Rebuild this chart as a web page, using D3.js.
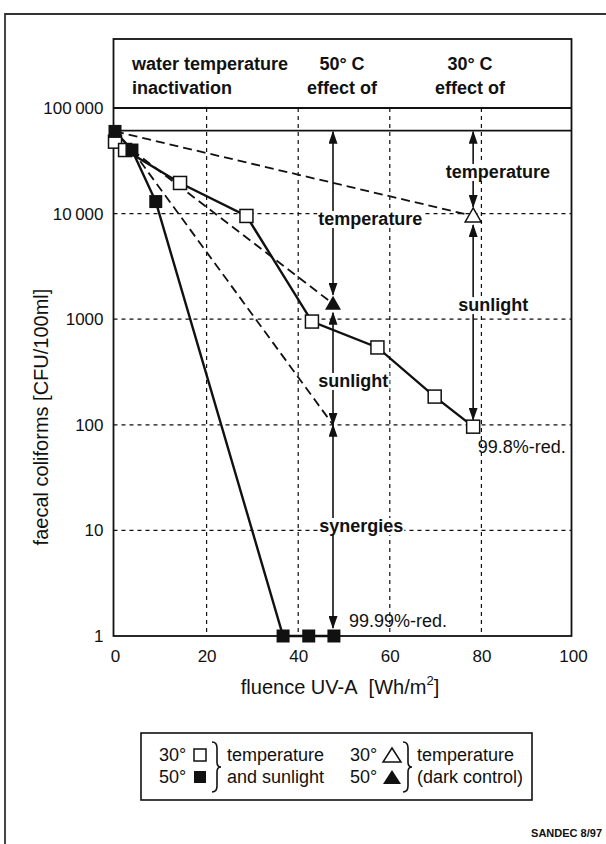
<!DOCTYPE html>
<html>
<head>
<meta charset="utf-8">
<script src="https://cdn.jsdelivr.net/npm/d3@7"></script>
<style>
  body { margin: 0; background: #fff; }
  svg { display: block; font-family: "Liberation Sans", Arial, Helvetica, sans-serif; }
</style>
</head>
<body>
<svg id="chart" width="606" height="844"></svg>
<script>
// fluence UV-A [Wh/m2] vs faecal coliforms [CFU/100ml]
const sun30_x = [0, 2.2, 14.2, 28.7, 43, 57.3, 69.8, 78.2];
const sun30_y = [48000, 40000, 19500, 9500, 950, 540, 185, 96];
const sun50_x = [0, 3.7, 8.9, 36.7, 42.3, 47.8];
const sun50_y = [60000, 40000, 13000, 1, 1, 1];
const dark30_x = [0, 78.2];
const dark30_y = [60000, 9500];
const dark50_x = [3.7, 47.6];
const dark50_y = [40000, 1400];
const expect_x = [3.7, 47.6];
const expect_y = [40000, 100];
const start_level = 61000;

const x_ticks = [0, 20, 40, 60, 80, 100];
const y_ticks = [1, 10, 100, 1000, 10000, 100000];
const y_tick_labels = ["1", "10", "100", "1000", "10\u2009000", "100\u2009000"];
const grid_x = [20, 40, 60, 80];
const grid_y = [10, 100, 1000, 10000];

// double arrows: x, from value, to value
const arrow_x = [47.6, 47.6, 47.6, 78.2, 78.2];
const arrow_from = [61000, 1400, 100, 61000, 9500];
const arrow_to = [1400, 100, 1, 9500, 96];

const note_text = ["temperature", "sunlight", "synergies", "temperature", "sunlight", "99.8%-red.", "99.99%-red."];
const note_x = [44.4, 44.4, 44.6, 83.6, 82.6, 79.2, 51.1];
const note_y = [8900, 260, 11, 24800, 1360, 62, 1.39];

const header_top = ["water temperature", "50° C", "30° C"];
const header_bottom = ["inactivation", "effect of", "effect of"];

const svg = d3.select("#chart");
const x = d3.scaleLinear().domain([0, 100]).range([115, 573]);
const y = d3.scaleLog().domain([1, 100000]).range([636, 108]);
const plotLeft = x(0) - 1.5, plotRight = x(100) - 1.5, headTop = 39;
const ink = "#111";

// outer frame (top + left only)
svg.append("path")
  .attr("d", "M5,844 L5,14 L606,14")
  .attr("fill", "none").attr("stroke", "#333").attr("stroke-width", 1.8);

// gridlines
svg.append("g").selectAll("line")
  .data(grid_x).enter().append("line")
  .attr("x1", d => x(d)).attr("x2", d => x(d))
  .attr("y1", y(100000)).attr("y2", y(1))
  .attr("stroke", ink).attr("stroke-width", 1.2).attr("stroke-dasharray", "4,4");

svg.append("g").selectAll("line")
  .data(grid_y).enter().append("line")
  .attr("x1", plotLeft).attr("x2", plotRight)
  .attr("y1", d => y(d)).attr("y2", d => y(d))
  .attr("stroke", ink).attr("stroke-width", 1.2).attr("stroke-dasharray", "4,4");

// initial level line
svg.append("line")
  .attr("x1", plotLeft).attr("x2", plotRight)
  .attr("y1", y(start_level)).attr("y2", y(start_level))
  .attr("stroke", ink).attr("stroke-width", 1.6);

// arrow heads
svg.append("defs").append("marker")
  .attr("id", "head")
  .attr("markerUnits", "userSpaceOnUse")
  .attr("viewBox", "0 0 13 9")
  .attr("markerWidth", 13).attr("markerHeight", 9)
  .attr("refX", 12).attr("refY", 4.5)
  .attr("orient", "auto-start-reverse")
  .append("path").attr("d", "M0,0 L13,4.5 L0,9 Z").attr("fill", ink);

function gap(v) {
  if (v === start_level) return 1;
  if (v === 100) return 0;
  if (v === 1) return 8;
  return v < 200 ? 7 : 9;
}

svg.append("g").selectAll("line")
  .data(arrow_x.map((d, i) => i)).enter().append("line")
  .attr("x1", i => x(arrow_x[i])).attr("x2", i => x(arrow_x[i]))
  .attr("y1", i => y(arrow_from[i]) + gap(arrow_from[i]))
  .attr("y2", i => y(arrow_to[i]) - gap(arrow_to[i]))
  .attr("stroke", ink).attr("stroke-width", 1.6)
  .attr("marker-start", "url(#head)").attr("marker-end", "url(#head)");

// notes with white background
const notes = svg.append("g").selectAll("g")
  .data(note_text.map((d, i) => i)).enter().append("g");
notes.append("text")
  .attr("x", i => x(note_x[i]))
  .attr("y", i => y(note_y[i]))
  .attr("text-anchor", i => (i === 3 || i === 4) ? "middle" : "start")
  .attr("dominant-baseline", "central")
  .attr("font-size", 18)
  .attr("font-weight", i => i < 5 ? "bold" : "normal")
  .attr("fill", ink)
  .text(i => note_text[i]);
notes.each(function(i) {
  if (i >= 5) return;
  const b = d3.select(this).select("text").node().getBBox();
  d3.select(this).insert("rect", "text")
    .attr("x", b.x - 1).attr("y", b.y + 2)
    .attr("width", b.width + 2).attr("height", b.height - 3)
    .attr("fill", "#fff");
});

// data lines
const line = d3.line().x(d => x(d[0])).y(d => y(d[1]));
const zip = (xs, ys) => xs.map((d, i) => [d, ys[i]]);

[[dark30_x, dark30_y], [dark50_x, dark50_y], [expect_x, expect_y]].forEach(([xs, ys]) => {
  svg.append("path").datum(zip(xs, ys))
    .attr("d", line).attr("fill", "none").attr("stroke", ink)
    .attr("stroke-width", 1.8).attr("stroke-dasharray", "9,5");
});
[[sun30_x, sun30_y], [sun50_x, sun50_y]].forEach(([xs, ys]) => {
  svg.append("path").datum(zip(xs, ys))
    .attr("d", line).attr("fill", "none").attr("stroke", ink).attr("stroke-width", 2.4);
});

// plot frame + header box
svg.append("rect")
  .attr("x", plotLeft).attr("y", headTop)
  .attr("width", plotRight - plotLeft).attr("height", y(1) - headTop)
  .attr("fill", "none").attr("stroke", ink).attr("stroke-width", 1.8);
svg.append("line")
  .attr("x1", plotLeft).attr("x2", plotRight)
  .attr("y1", y(100000)).attr("y2", y(100000))
  .attr("stroke", ink).attr("stroke-width", 1.8);

// markers
const tri = "M0,-8 L8,6 L-8,6 Z";
svg.append("g").selectAll("rect")
  .data(zip(sun30_x, sun30_y)).enter().append("rect")
  .attr("x", d => x(d[0]) - 6.5).attr("y", d => y(d[1]) - 6.5)
  .attr("width", 13).attr("height", 13)
  .attr("fill", "#fff").attr("stroke", ink).attr("stroke-width", 1.5);
svg.append("g").selectAll("rect")
  .data(zip(sun50_x, sun50_y)).enter().append("rect")
  .attr("x", d => x(d[0]) - 6.5).attr("y", d => y(d[1]) - 6.5)
  .attr("width", 13).attr("height", 13)
  .attr("fill", ink);
svg.append("path")
  .attr("transform", `translate(${x(dark30_x[1])},${y(dark30_y[1])})`)
  .attr("d", tri).attr("fill", "#fff").attr("stroke", ink).attr("stroke-width", 1.5);
svg.append("path")
  .attr("transform", `translate(${x(dark50_x[1])},${y(dark50_y[1])})`)
  .attr("d", tri).attr("fill", ink);

// axes
const xAxis = svg.append("g")
  .attr("transform", `translate(0,${y(1)})`)
  .call(d3.axisBottom(x).tickValues(x_ticks).tickSize(0).tickPadding(14));
const yAxis = svg.append("g")
  .attr("transform", `translate(${plotLeft},0)`)
  .call(d3.axisLeft(y).tickValues(y_ticks).tickSize(0).tickPadding(10)
    .tickFormat((d, i) => y_tick_labels[i]));
[xAxis, yAxis].forEach(a => {
  a.select(".domain").remove();
  a.selectAll("text").attr("font-size", 17).attr("fill", ink)
    .attr("font-family", "Liberation Sans, Arial, sans-serif");
});

// axis titles
svg.append("text")
  .attr("transform", "translate(41,417) rotate(-90)")
  .attr("text-anchor", "middle").attr("dominant-baseline", "central")
  .attr("font-size", 20).attr("fill", ink)
  .text("faecal coliforms [CFU/100ml]");
const xt = svg.append("text")
  .attr("x", 340).attr("y", 687)
  .attr("text-anchor", "middle").attr("dominant-baseline", "central")
  .attr("font-size", 20).attr("fill", ink)
  .style("white-space", "pre");
xt.append("tspan").text("fluence UV-A\u00a0\u00a0[Wh/m");
xt.append("tspan").attr("font-size", 13).attr("dy", -7).text("2");
xt.append("tspan").attr("dy", 7).text("]");

// header
const header_x = [132, 342, 470];
svg.append("g").selectAll("text")
  .data(header_top).enter().append("text")
  .attr("x", (d, i) => header_x[i]).attr("y", 64)
  .attr("text-anchor", (d, i) => i === 0 ? "start" : "middle")
  .attr("dominant-baseline", "central")
  .attr("font-size", 18).attr("font-weight", "bold").attr("fill", ink)
  .text(d => d);
svg.append("g").selectAll("text")
  .data(header_bottom).enter().append("text")
  .attr("x", (d, i) => header_x[i]).attr("y", 88)
  .attr("text-anchor", (d, i) => i === 0 ? "start" : "middle")
  .attr("dominant-baseline", "central")
  .attr("font-size", 18).attr("font-weight", "bold").attr("fill", ink)
  .text(d => d);

// legend
const lg = svg.append("g");
lg.append("rect")
  .attr("x", 141).attr("y", 733).attr("width", 391).attr("height", 67)
  .attr("fill", "#fff").attr("stroke", ink).attr("stroke-width", 1.6);
const row = [755, 777];
const legText = (tx, ty, s) => lg.append("text").attr("x", tx).attr("y", ty)
  .attr("dominant-baseline", "central").attr("font-size", 18).attr("fill", ink).text(s);
legText(159, row[0], "30°");
legText(159, row[1], "50°");
legText(227, row[0], "temperature");
legText(227, row[1], "and sunlight");
legText(350, row[0], "30°");
legText(350, row[1], "50°");
legText(417, row[0], "temperature");
legText(417, row[1], "(dark control)");
lg.append("rect").attr("x", 194).attr("y", row[0] - 6).attr("width", 12).attr("height", 12)
  .attr("fill", "#fff").attr("stroke", ink).attr("stroke-width", 1.5);
lg.append("rect").attr("x", 194).attr("y", row[1] - 6).attr("width", 12).attr("height", 12)
  .attr("fill", ink);
lg.append("path").attr("transform", `translate(392,${row[0] + 1})`)
  .attr("d", "M0,-8 L9,6 L-9,6 Z").attr("fill", "#fff").attr("stroke", ink).attr("stroke-width", 1.5);
lg.append("path").attr("transform", `translate(392,${row[1] + 1})`)
  .attr("d", "M0,-8 L9,6 L-9,6 Z").attr("fill", ink);
function brace(bx, t, b) {
  const m = (t + b) / 2;
  return `M${bx},${t} Q${bx + 5},${t} ${bx + 5},${t + 6} L${bx + 5},${m - 5} Q${bx + 5},${m} ${bx + 9},${m}` +
    ` Q${bx + 5},${m} ${bx + 5},${m + 5} L${bx + 5},${b - 6} Q${bx + 5},${b} ${bx},${b}`;
}
lg.append("path").attr("d", brace(212, 742, 792)).attr("fill", "none").attr("stroke", ink).attr("stroke-width", 1.6);
lg.append("path").attr("d", brace(403, 742, 792)).attr("fill", "none").attr("stroke", ink).attr("stroke-width", 1.6);

// credit
svg.append("text")
  .attr("x", 602).attr("y", 833)
  .attr("text-anchor", "end").attr("dominant-baseline", "central")
  .attr("font-size", 11).attr("font-weight", "bold").attr("fill", ink)
  .text("SANDEC 8/97");
</script>
</body>
</html>
